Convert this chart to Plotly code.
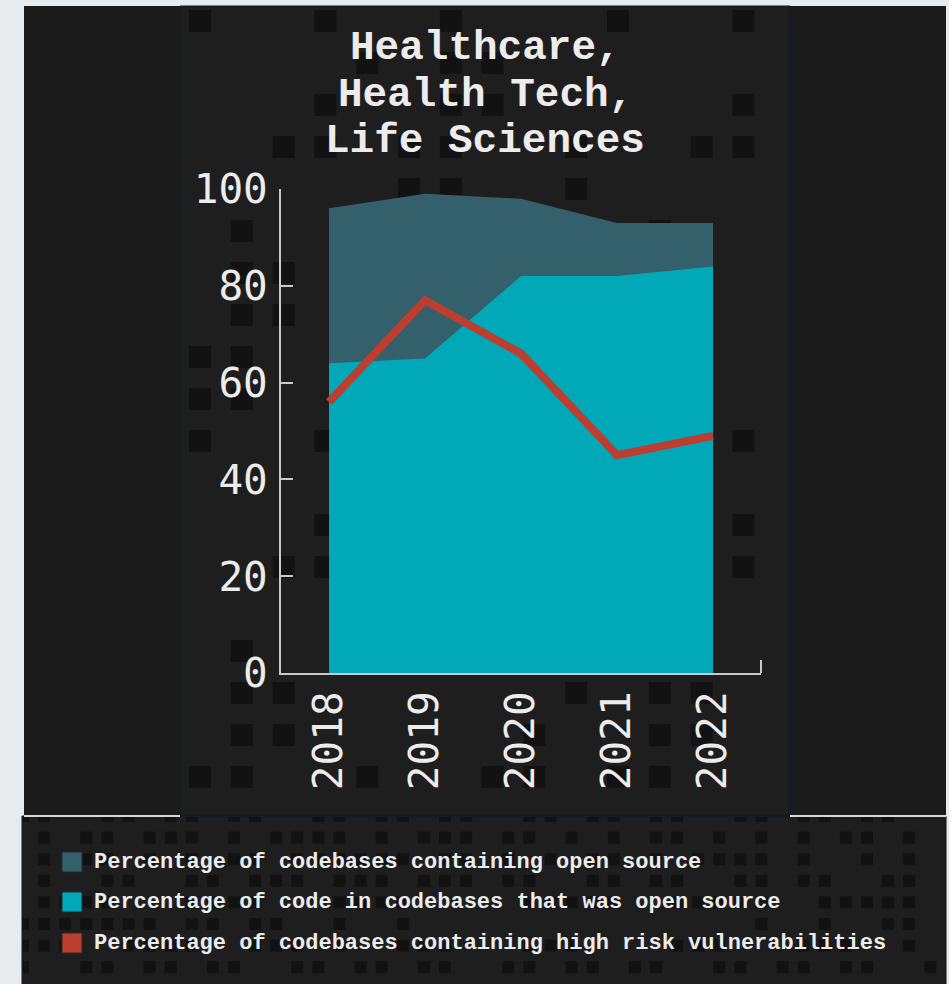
import plotly.graph_objects as go

# ---- data ----
years = [2018, 2019, 2020, 2021, 2022]
year_labels = ["2018", "2019", "2020", "2021", "2022"]
pct_codebases_open_source = [96, 99, 98, 93, 93]
pct_code_open_source = [64, 65, 82, 82, 84]
pct_high_risk = [56, 77, 66, 45, 49]
y_ticks = [0, 20, 40, 60, 80, 100]
series_names = [
    "Percentage of codebases containing open source",
    "Percentage of code in codebases that was open source",
    "Percentage of codebases containing high risk vulnerabilities",
]
title_lines = ["Healthcare,", "Health Tech,", "Life Sciences"]

# ---- style ----
C_DARK = "#34606c"
C_CYAN = "#00a8b8"
C_RED = "#bd3d30"
COLORS = [C_DARK, C_CYAN, C_RED]
BG_PAGE = "#e7ebee"
BG_OUT = "#1b1b1b"
BG_PANEL = "#1e1e1e"
SQ = "#121212"
AXIS = "#c9c9c9"
TXT = "#ececec"
W, H = 949, 984
L, R, T, B = 281, 761, 189, 673  # plot area in pixels


def px(x):
    return (x - L) / (R - L)


def py(y):
    return (B - y) / (B - T)


fig = go.Figure()
fig.add_trace(go.Scatter(x=years, y=pct_codebases_open_source, mode="lines",
                         fill="tozeroy", fillcolor=C_DARK, line=dict(width=0, color=C_DARK),
                         name=series_names[0], showlegend=False, hoverinfo="skip"))
fig.add_trace(go.Scatter(x=years, y=pct_code_open_source, mode="lines",
                         fill="tozeroy", fillcolor=C_CYAN, line=dict(width=0, color=C_CYAN),
                         name=series_names[1], showlegend=False, hoverinfo="skip"))
fig.add_trace(go.Scatter(x=years, y=pct_high_risk, mode="lines",
                         line=dict(width=8, color=C_RED),
                         name=series_names[2], showlegend=False, hoverinfo="skip"))

shapes = []


def rect(x0, y0, x1, y1, fill, line_color=None, lw=0):
    shapes.append(dict(type="rect", xref="paper", yref="paper",
                       x0=px(x0), x1=px(x1), y0=py(y1), y1=py(y0),
                       fillcolor=fill, line=dict(width=lw, color=line_color or fill),
                       layer="below"))


def hline(x0, x1, y, color, w=1):
    shapes.append(dict(type="line", xref="paper", yref="paper",
                       x0=px(x0), x1=px(x1), y0=py(y), y1=py(y),
                       line=dict(width=w, color=color), layer="below"))


# background boxes
rect(24, 6, 946, 816, BG_OUT)
rect(180, 6, 790, 816, BG_PANEL, "#0d1a2c", 1)
rect(22, 816, 946, 990, BG_PANEL, "#0d1a2c", 1)
hline(24, 180, 816, "#d8d8d8", 2)
hline(790, 946, 816, "#d8d8d8", 2)

# decorative squares in chart panel
for j in range(20):
    for i in range(15):
        if (i * 37 + j * 59 + (i * j) % 5) % 10 < 3:
            x0 = 189 + i * 41.8
            y0 = 10 + j * 42
            if x0 + 22 > 788 or y0 + 22 > 814:
                continue
            rect(x0, y0, x0 + 22, y0 + 22, SQ)

# decorative squares in legend box
for j in range(8):
    for i in range(44):
        if (i * 13 + j * 29 + (i * j) % 7) % 10 < 6:
            x0 = 17 + i * 21.1
            y0 = 810 + j * 21.6
            x0c = max(x0, 23)
            x1c = min(x0 + 12, 945)
            y0c = max(y0, 817)
            if x1c <= x0c or y0c >= y0 + 12:
                continue
            rect(x0c, y0c, x1c, min(y0 + 12, 984), SQ)

# right-end outer tick of x axis
shapes.append(dict(type="line", xref="paper", yref="paper", x0=1, x1=1,
                   y0=0, y1=py(660), line=dict(width=2, color=AXIS)))

annotations = []
# title
for line, yc in zip(title_lines, [48, 95, 141]):
    annotations.append(dict(text="<b>" + line + "</b>", xref="paper", yref="paper",
                            x=px(485), y=py(yc), xanchor="center", yanchor="middle",
                            showarrow=False,
                            font=dict(family="Liberation Mono, DejaVu Sans Mono, monospace",
                                      size=41, color=TXT)))

# custom legend
for k, (name, col) in enumerate(zip(series_names, COLORS)):
    yc = [862, 902, 943][k]
    shapes.append(dict(type="rect", xref="paper", yref="paper",
                       x0=px(62), x1=px(82), y0=py(yc + 10), y1=py(yc - 10),
                       fillcolor=col, line=dict(width=1, color="#2a2a2a")))
    annotations.append(dict(text="<b>" + name + "</b>", xref="paper", yref="paper",
                            x=px(92), y=py(yc), xanchor="left", yanchor="middle",
                            showarrow=False,
                            font=dict(family="Liberation Mono, DejaVu Sans Mono, monospace",
                                      size=22, color=TXT)))

fig.update_layout(
    width=W, height=H, autosize=False,
    margin=dict(l=L, r=W - R, t=T, b=H - B, pad=0),
    paper_bgcolor=BG_PAGE, plot_bgcolor="rgba(0,0,0,0)",
    showlegend=False,
    shapes=shapes, annotations=annotations,
    xaxis=dict(range=[2017.5, 2022.5], tickvals=years, ticktext=year_labels,
               tickangle=-90, showline=True, linecolor=AXIS, linewidth=2,
               showgrid=False, zeroline=False, ticks="", ticklabelstandoff=0,
               tickfont=dict(family="DejaVu Sans Mono, monospace", size=41, color=TXT),
               fixedrange=True),
    yaxis=dict(range=[0, 100], tickvals=y_ticks, showline=True, linecolor=AXIS,
               linewidth=2, showgrid=False, zeroline=False, ticks="inside",
               ticklen=12, tickwidth=2, tickcolor=AXIS, ticklabelstandoff=3,
               tickfont=dict(family="DejaVu Sans Mono, monospace", size=41, color=TXT),
               fixedrange=True),
)

fig.write_html("out.html", config={"displayModeBar": False})
